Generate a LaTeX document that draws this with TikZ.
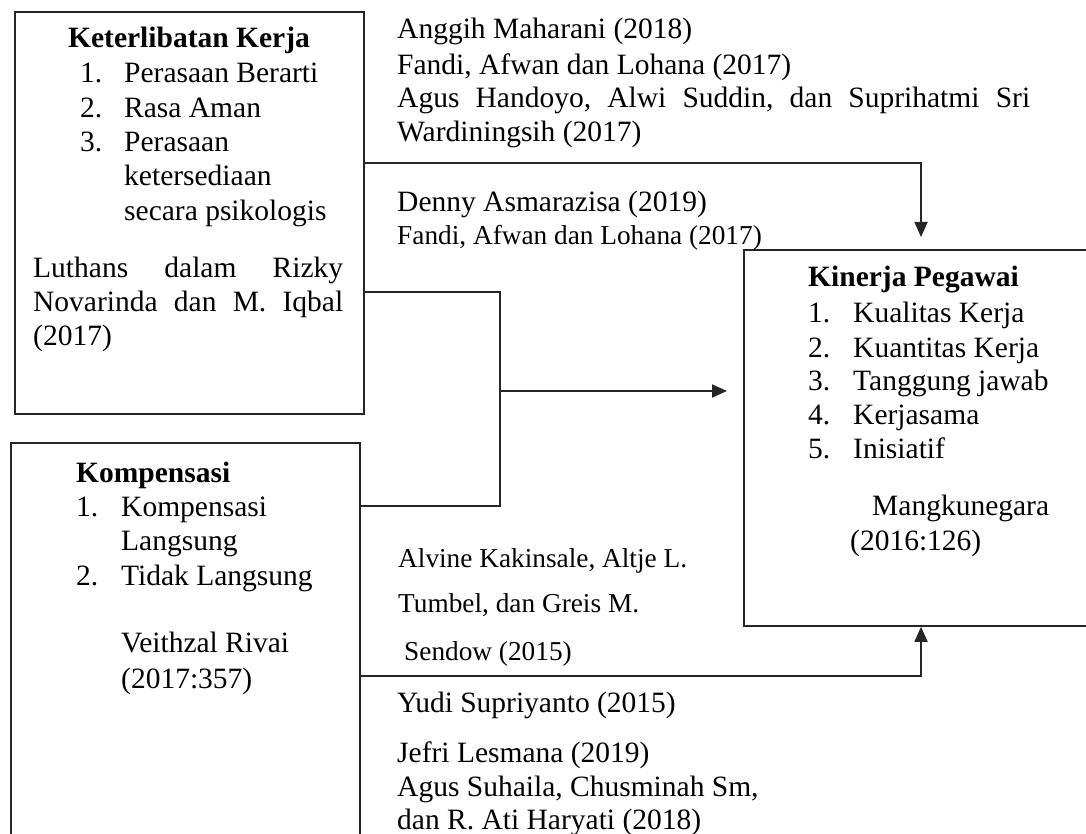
\documentclass[tikz,border=0pt]{standalone}
\usepackage{fontspec}
\setmainfont{Liberation Serif}
\usetikzlibrary{arrows.meta}
\begin{document}
\begin{tikzpicture}[x=1pt,y=-1pt,
  box/.style={draw=black!85,line width=1.8pt,inner sep=0pt,anchor=north west},
  txt/.style={anchor=base west,inner sep=0pt,font=\fontsize{29.5}{35}\selectfont},
  sm/.style={anchor=base west,inner sep=0pt,font=\fontsize{27.3}{33}\selectfont},
  ttl/.style={txt,font=\fontsize{29.5}{35}\selectfont\bfseries},
  conn/.style={draw=black!85,line width=1.8pt},
  arr/.style={conn,-{Triangle[length=15pt,width=13pt]}}]
\useasboundingbox (0,0) rectangle (1086,834);
\clip (0,0) rectangle (1086,834);
% boxes
\node[box,minimum width=349pt,minimum height=402pt] (k1) at (14,11) {};
\node[box,minimum width=349pt,minimum height=420pt] (k2) at (10,442) {};
\node[box,minimum width=400pt,minimum height=376pt] (k3) at (743,249) {};
% box 1 text
\node[ttl,anchor=base] (k1t) at (189,48) {Keterlibatan Kerja};
\node[txt] (k1n1) at (80,83) {1.};
\node[txt] (k1i1) at (124,83) {Perasaan Berarti};
\node[txt] (k1n2) at (80,118) {2.};
\node[txt] (k1i2) at (124,118) {Rasa Aman};
\node[txt] (k1n3) at (80,152) {3.};
\node[txt] (k1i3) at (124,152) {Perasaan};
\node[txt] (k1i3b) at (124,186) {ketersediaan};
\node[txt] (k1i3c) at (124,221) {secara psikologis};
\node[txt] (k1r1) at (33,277) {\makebox[310pt][s]{Luthans\hfill dalam\hfill Rizky}};
\node[txt] (k1r2) at (33,311) {\makebox[310pt][s]{Novarinda\hfill dan\hfill M.\hfill Iqbal}};
\node[txt] (k1r3) at (33,345) {(2017)};
% box 2 text
\node[ttl] (k2t) at (76,482) {Kompensasi};
\node[txt] (k2n1) at (76,516) {1.};
\node[txt] (k2i1) at (121,516) {Kompensasi};
\node[txt] (k2i1b) at (121,550) {Langsung};
\node[txt] (k2n2) at (76,585) {2.};
\node[txt] (k2i2) at (121,585) {Tidak Langsung};
\node[txt] (k2r1) at (121,652) {Veithzal Rivai};
\node[txt] (k2r2) at (121,688) {(2017:357)};
% box 3 text
\node[ttl] (k3t) at (808,287) {Kinerja Pegawai};
\node[txt] (k3n1) at (808,322) {1.};
\node[txt] (k3i1) at (853,322) {Kualitas Kerja};
\node[txt] (k3n2) at (808,357) {2.};
\node[txt] (k3i2) at (853,357) {Kuantitas Kerja};
\node[txt] (k3n3) at (808,390) {3.};
\node[txt] (k3i3) at (853,390) {Tanggung jawab};
\node[txt] (k3n4) at (808,424) {4.};
\node[txt] (k3i4) at (853,424) {Kerjasama};
\node[txt] (k3n5) at (808,458) {5.};
\node[txt] (k3i5) at (853,458) {Inisiatif};
\node[txt] (k3r1) at (872,515) {Mangkunegara};
\node[txt] (k3r2) at (850,550) {(2016:126)};
% top references
\node[txt] (a1) at (397,39) {Anggih Maharani (2018)};
\node[txt] (a2) at (397,75) {Fandi, Afwan dan Lohana (2017)};
\node[txt] (a3) at (397,108) {\makebox[633pt][s]{Agus\hfill Handoyo,\hfill Alwi\hfill Suddin,\hfill dan\hfill Suprihatmi\hfill Sri}};
\node[txt] (a4) at (397,142) {Wardiningsih (2017)};
\node[txt] (b1) at (397,212) {Denny Asmarazisa (2019)};
\node[sm] (b2) at (397,244) {Fandi, Afwan dan Lohana (2017)};
% bottom references
\node[sm] (c1) at (398,567) {Alvine Kakinsale, Altje L.};
\node[sm] (c2) at (398,612) {Tumbel, dan Greis M.};
\node[sm] (c3) at (404,660) {Sendow (2015)};
\node[txt] (d1) at (397,712) {Yudi Supriyanto (2015)};
\node[txt] (e1) at (397,762) {Jefri Lesmana (2019)};
\node[txt] (e2) at (397,796) {Agus Suhaila, Chusminah Sm,};
\node[txt] (e3) at (397,829) {dan R. Ati Haryati (2018)};
% connectors
\coordinate (t1) at (921,163);
\draw[arr,shorten >=12pt] (k1.east |- t1) -- (t1) -- (k3.north -| t1);
\coordinate (m1) at (500,292);
\coordinate (m2) at (500,506);
\coordinate (m3) at (500,391);
\draw[conn] (k1.east |- m1) -- (m1) -- (m2) -- (k2.east |- m2);
\draw[arr,shorten >=16pt] (m3) -- (k3.west |- m3);
\coordinate (u1) at (921,676);
\draw[arr] (k2.east |- u1) -- (u1) -- (k3.south -| u1);
\end{tikzpicture}
\end{document}
